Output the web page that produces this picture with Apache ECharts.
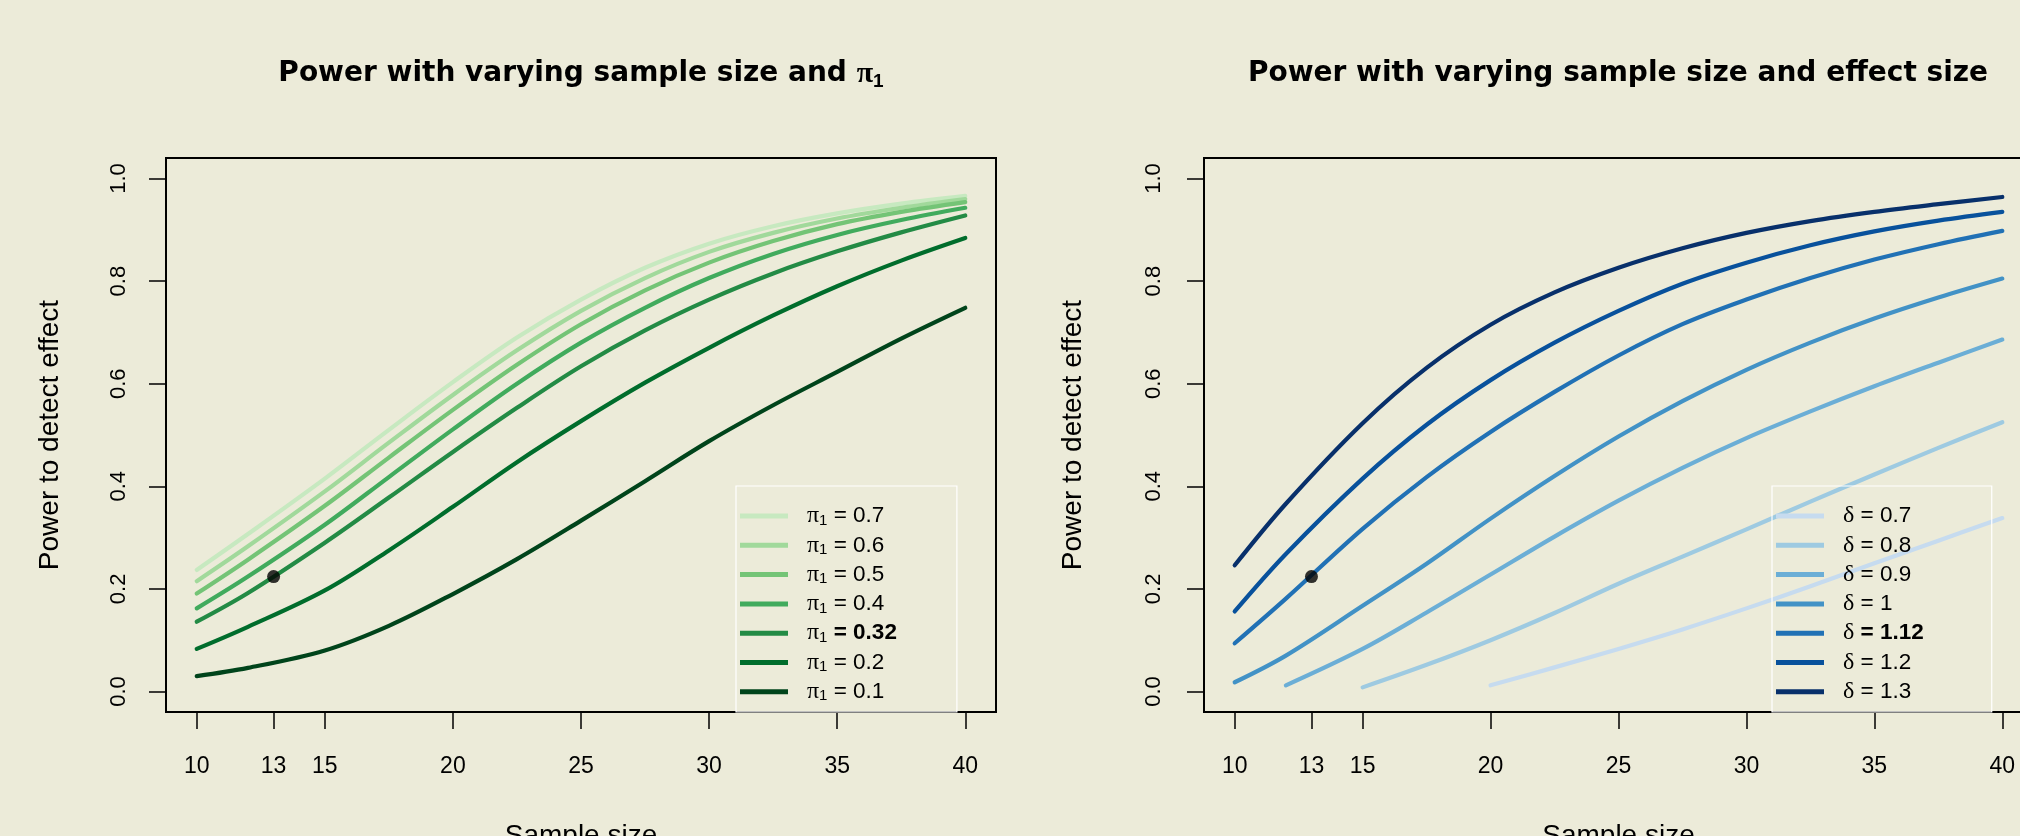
<!DOCTYPE html>
<html>
<head>
<meta charset="utf-8">
<title>Power curves</title>
<script src="https://cdn.jsdelivr.net/npm/echarts@6.0.0/dist/echarts.min.js"></script>
<style>
html, body { margin: 0; padding: 0; background: #ecebd9; }
#main { width: 2020px; height: 836px; }
</style>
</head>
<body>
<div id="main"></div>
<script>
var sampleSizes = [10, 12, 15, 17.5, 20, 22.5, 25, 27.5, 30, 32.5, 35, 37.5, 40];
var xTicks = [10, 13, 15, 20, 25, 30, 35, 40];
var yTicks = [0, 0.2, 0.4, 0.6, 0.8, 1.0];

// left panel - power for each pi1
var pi1Levels = ['0.7', '0.6', '0.5', '0.4', '0.32', '0.2', '0.1'];
var pi1Colors = ['#c7e9c0', '#a1d99b', '#74c476', '#41ab5d', '#238b45', '#006d2c', '#00441b'];
var powerPi07 = [0.237, 0.307, 0.415, 0.51, 0.603, 0.69, 0.764, 0.826, 0.873, 0.907, 0.932, 0.951, 0.966];
var powerPi06 = [0.215, 0.283, 0.39, 0.485, 0.578, 0.665, 0.742, 0.806, 0.857, 0.894, 0.922, 0.943, 0.960];
var powerPi05 = [0.191, 0.257, 0.362, 0.456, 0.549, 0.637, 0.716, 0.782, 0.836, 0.878, 0.911, 0.935, 0.954];
var powerPi04 = [0.162, 0.224, 0.325, 0.418, 0.511, 0.60, 0.68, 0.748, 0.806, 0.853, 0.89, 0.919, 0.943];
var powerPi032 = [0.136, 0.192, 0.29, 0.378, 0.467, 0.553, 0.634, 0.704, 0.764, 0.815, 0.858, 0.895, 0.928];
var powerPi02 = [0.083, 0.126, 0.197, 0.275, 0.36, 0.447, 0.527, 0.602, 0.67, 0.733, 0.79, 0.84, 0.884];
var powerPi01 = [0.03, 0.046, 0.08, 0.128, 0.19, 0.258, 0.333, 0.41, 0.488, 0.558, 0.623, 0.688, 0.748];
var pi1Power = [powerPi07, powerPi06, powerPi05, powerPi04, powerPi032, powerPi02, powerPi01];

// right panel - power for each effect size (null = not computed)
var deltaLevels = ['0.7', '0.8', '0.9', '1', '1.12', '1.2', '1.3'];
var deltaColors = ['#c6dbef', '#9ecae1', '#6baed6', '#4292c6', '#2171b5', '#08519c', '#08306b'];
var powerD07 = [null, null, null, null, 0.012, 0.047, 0.083, 0.121, 0.162, 0.205, 0.25, 0.294, 0.338];
var powerD08 = [null, null, 0.008, 0.052, 0.1, 0.153, 0.21, 0.263, 0.316, 0.37, 0.423, 0.475, 0.525];
var powerD09 = [null, 0.012, 0.083, 0.154, 0.228, 0.302, 0.372, 0.436, 0.494, 0.546, 0.595, 0.641, 0.686];
var powerD10 = [0.018, 0.07, 0.167, 0.249, 0.337, 0.42, 0.497, 0.566, 0.627, 0.68, 0.727, 0.768, 0.805];
var powerD112 = [0.094, 0.181, 0.317, 0.418, 0.506, 0.584, 0.655, 0.716, 0.764, 0.806, 0.842, 0.872, 0.898];
var powerD12 = [0.156, 0.268, 0.415, 0.52, 0.607, 0.68, 0.742, 0.795, 0.836, 0.87, 0.897, 0.918, 0.935];
var powerD13 = [0.246, 0.366, 0.523, 0.631, 0.715, 0.778, 0.826, 0.864, 0.894, 0.917, 0.935, 0.950, 0.964];
var deltaPower = [powerD07, powerD08, powerD09, powerD10, powerD112, powerD12, powerD13];

// the highlighted design: n = 13, power 0.22
var chosenPoint = [13, 0.224];
var boldPi1 = '0.32';
var boldDelta = '1.12';

var font = 'Liberation Sans, Arial, sans-serif';
var serif = 'Liberation Serif, Times New Roman, serif';

function pairs(vals) {
	var out = [];
	for (var i = 0; i < sampleSizes.length; i++) {
		if (vals[i] != null) out.push([sampleSizes[i], vals[i]]);
	}
	return out;
}

function xAxisFor(idx) {
	return {
		type: 'value', gridIndex: idx, min: 8.8, max: 41.2,
		name: 'Sample size', nameLocation: 'middle', nameGap: 110,
		nameTextStyle: { fontFamily: font, fontSize: 28, color: '#000' },
		axisLine: { show: false, onZero: false },
		splitLine: { show: false },
		axisTick: { show: true, inside: false, customValues: xTicks, length: 17, lineStyle: { color: '#000', width: 1.5 } },
		axisLabel: { customValues: xTicks, margin: 43, fontFamily: font, fontSize: 23, color: '#000' }
	};
}

function yAxisFor(idx, labelMargin, nameGap) {
	return {
		type: 'value', gridIndex: idx, min: -0.04, max: 1.04,
		name: 'Power to detect effect', nameLocation: 'middle', nameGap: nameGap,
		nameTextStyle: { fontFamily: font, fontSize: 28, color: '#000' },
		axisLine: { show: false, onZero: false },
		splitLine: { show: false },
		axisTick: { show: true, inside: false, customValues: yTicks, length: 17, lineStyle: { color: '#000', width: 1.5 } },
		axisLabel: {
			customValues: yTicks, rotate: 90, margin: labelMargin,
			fontFamily: font, fontSize: 22, color: '#000',
			formatter: function (v) { return v.toFixed(1); }
		}
	};
}

var legendRich = {
	p: { fontFamily: serif, fontSize: 24, color: '#000', padding: [0, 0, 0, 14], lineHeight: 24 },
	s: { fontFamily: font, fontSize: 15, color: '#000', verticalAlign: 'bottom', lineHeight: 12 },
	t: { fontFamily: font, fontSize: 22.5, color: '#000', lineHeight: 24 },
	tb: { fontFamily: font, fontSize: 22.5, color: '#000', fontWeight: 'bold', lineHeight: 24 }
};

var series = [];
var leftNames = [];
var rightNames = [];

pi1Levels.forEach(function (lv, i) {
	var name = 'π1 = ' + lv;
	leftNames.push({ name: name, icon: 'rect' });
	series.push({
		name: name, type: 'line', xAxisIndex: 0, yAxisIndex: 0,
		data: pairs(pi1Power[i]), symbol: 'none', smooth: 0.35,
		color: pi1Colors[i],
		lineStyle: { width: 4.2, color: pi1Colors[i], cap: 'round', join: 'round' }
	});
});

deltaLevels.forEach(function (lv, i) {
	var name = 'δ = ' + lv;
	rightNames.push({ name: name, icon: 'rect' });
	series.push({
		name: name, type: 'line', xAxisIndex: 1, yAxisIndex: 1,
		data: pairs(deltaPower[i]), symbol: 'none', smooth: 0.35,
		color: deltaColors[i],
		lineStyle: { width: 4.2, color: deltaColors[i], cap: 'round', join: 'round' }
	});
});

[0, 1].forEach(function (g) {
	series.push({
		type: 'scatter', xAxisIndex: g, yAxisIndex: g, z: 5,
		data: [chosenPoint], symbol: 'circle', symbolSize: 13,
		itemStyle: { color: '#000' }, silent: true
	});
});

var titleRich = {
	b: { fontFamily: 'DejaVu Sans', fontWeight: 'bold', fontSize: 28, color: '#000', lineHeight: 34 },
	p: { fontFamily: serif, fontSize: 30, color: '#000', lineHeight: 34 },
	s: { fontFamily: font, fontSize: 19, color: '#000', verticalAlign: 'bottom', lineHeight: 16 }
};

var option = {
	backgroundColor: '#ecebd9',
	animation: false,
	title: [
		{ text: '{b|Power with varying sample size and }{p|π}{s|1}', left: 581, top: 57, padding: 0, textAlign: 'center', textStyle: { rich: titleRich } },
		{ text: '{b|Power with varying sample size and effect size}', left: 1618, top: 57, padding: 0, textAlign: 'center', textStyle: { rich: titleRich } }
	],
	grid: [
		{ left: 166, top: 158, width: 830, height: 554, outerBoundsMode: 'none', containLabel: false, show: true, borderColor: '#000', borderWidth: 2, backgroundColor: 'transparent' },
		{ left: 1204, top: 158, width: 829, height: 554, outerBoundsMode: 'none', containLabel: false, show: true, borderColor: '#000', borderWidth: 2, backgroundColor: 'transparent' }
	],
	legend: [
		{
			data: leftNames, orient: 'vertical', left: 736, top: 486,
			itemWidth: 48, itemHeight: 5, itemGap: 5.3,
			padding: [18, 60, 8, 4], borderColor: '#fff', borderWidth: 1.2,
			selectedMode: false,
			textStyle: { rich: legendRich },
			formatter: function (name) {
				var v = name.split('= ')[1];
				return '{p|π}{s|1}' + (v === boldPi1 ? '{tb| = ' + v + '}' : '{t| = ' + v + '}');
			}
		},
		{
			data: rightNames, orient: 'vertical', left: 1772, top: 486,
			itemWidth: 48, itemHeight: 5, itemGap: 5.3,
			padding: [18, 68, 8, 4], borderColor: '#fff', borderWidth: 1.2,
			selectedMode: false,
			textStyle: { rich: legendRich },
			formatter: function (name) {
				var v = name.split('= ')[1];
				return '{p|δ}' + (v === boldDelta ? '{tb| = ' + v + '}' : '{t| = ' + v + '}');
			}
		}
	],
	xAxis: [xAxisFor(0), xAxisFor(1)],
	yAxis: [yAxisFor(0, 36, 102), yAxisFor(1, 39, 117)],
	series: series
};

var chart = echarts.init(document.getElementById('main'));
chart.setOption(option);
</script>
</body>
</html>
